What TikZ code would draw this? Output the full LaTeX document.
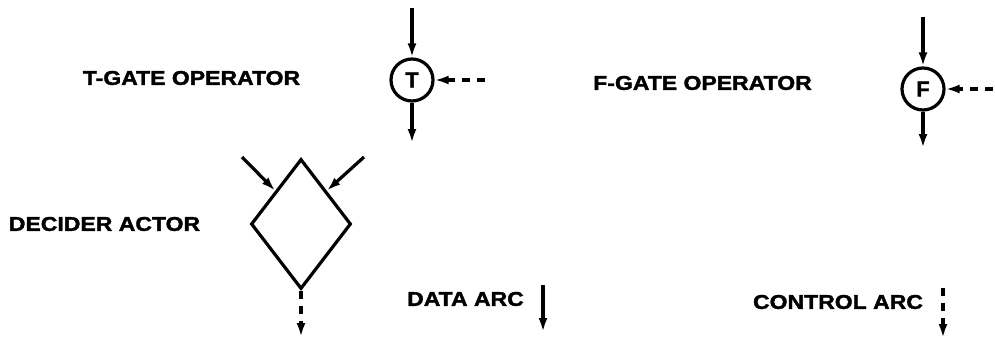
\documentclass[tikz,border=0pt]{standalone}
\usepackage{fontspec}
\usepackage{graphicx}
\setmainfont{Liberation Sans}[BoldFeatures={FakeBold=1.6}]
\usetikzlibrary{arrows.meta,calc,shapes.geometric}
\newcommand\widetext[1]{\scalebox{1.15}[1]{#1}}
\begin{document}
\begin{tikzpicture}[x=1pt,y=-1pt,
  lbl/.style={inner sep=0pt, font=\fontsize{20}{20}\selectfont\bfseries},
  gate/.style={circle, draw, line width=3.2pt, minimum size=42pt, inner sep=0pt, font=\fontsize{22}{22}\selectfont\bfseries},
  arc/.style={line width=3.2pt, -{Latex[length=14pt,width=9pt]}},
  carc/.style={arc, dash pattern=on 8pt off 7pt},
  decider/.style={diamond, draw, line width=3.2pt, minimum width=100pt, minimum height=130pt, inner sep=0pt}
]
\useasboundingbox (0,0) rectangle (995,345);

% labels
\node[lbl] (lT) at (191.5,78) {\widetext{T-GATE OPERATOR}};
\node[lbl] (lF) at (702.5,83) {\widetext{F-GATE OPERATOR}};
\node[lbl] (lD) at (104.5,224) {\widetext{DECIDER ACTOR}};
\node[lbl] (lDA) at (465.5,299) {\widetext{DATA ARC}};
\node[lbl] (lCA) at (838,302) {\widetext{CONTROL ARC}};

% T-gate
\node[gate] (T) at (412,80) {T};
\coordinate (Tin) at (412,8);
\coordinate (Tout) at (412,143);
\coordinate (Tc) at (485,80);
\draw[arc] (Tin) -- (T);
\draw[arc] (T) -- (Tout);
\draw[carc] (Tc) -- (T);

% F-gate
\node[gate] (F) at (923,89) {F};
\coordinate (Fin) at (923,17);
\coordinate (Fout) at (923,148);
\coordinate (Fc) at (993,89);
\draw[arc] (Fin) -- (F);
\draw[arc] (F) -- (Fout);
\draw[carc] (Fc) -- (F);

% decider
\node[decider] (D) at (301,224) {};
\coordinate (Dl) at (242,157);
\coordinate (Dr) at (364,157);
\coordinate (Dout) at (301,337);
\draw[arc] (Dl) -- ($(D.north)!0.5!(D.west)$);
\draw[arc] (Dr) -- ($(D.north)!0.5!(D.east)$);
\draw[carc] (D.south) -- (Dout);

% legend arcs
\coordinate (da1) at (543,285);
\coordinate (da2) at (543,332);
\draw[arc] (da1) -- (da2);
\coordinate (ca1) at (943,288);
\coordinate (ca2) at (943,338);
\draw[carc] (ca1) -- (ca2);
\end{tikzpicture}
\end{document}
